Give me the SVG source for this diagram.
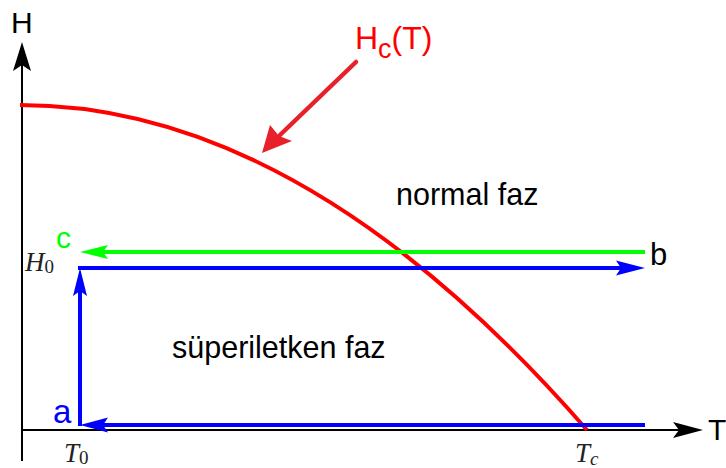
<svg xmlns="http://www.w3.org/2000/svg" width="726" height="468" viewBox="0 0 726 468">
<style>
.lbl{font-family:"Liberation Sans",Arial,sans-serif;font-size:30px}
.math{font-family:"Liberation Serif","Times New Roman",serif;font-style:italic;font-size:27px;fill:#222}
.sub{font-style:normal;font-size:19px}
.ax{stroke:#000;stroke-width:2;fill:none}
.blue{stroke:#0000ff;stroke-width:4;fill:none}
.green{stroke:#00ff00;stroke-width:4;fill:none}
</style>
<rect width="726" height="468" fill="#fff"/>
<g id="axes">
<line class="ax" x1="22" y1="461" x2="22" y2="60"/>
<path d="M22,42 L31,71 L22,65 L13,71 Z" fill="#000"/>
<line class="ax" x1="21" y1="430" x2="690" y2="430"/>
<path d="M703,430 L673,438 L679,430 L673,422 Z" fill="#000"/>
</g>
<g id="curve">
<path d="M20,105 Q303.5,105 587,430" stroke="#ff0000" stroke-width="4" fill="none"/>
</g>
<g id="connectors">
<line class="green" x1="100" y1="252" x2="645" y2="252"/>
<path d="M80,252 L108,245 L103,252 L108,259 Z" fill="#00ff00"/>
<line class="blue" x1="78" y1="268" x2="625" y2="268"/>
<path d="M645,268 L616,260.5 L621,268 L616,275.5 Z" fill="#0000ff"/>
<line class="blue" x1="80" y1="426" x2="80" y2="285"/>
<path d="M80,268 L87,296 L80,291 L73,296 Z" fill="#0000ff"/>
<line class="blue" x1="100" y1="425" x2="645" y2="425"/>
<path d="M80,425 L108,417.5 L103,425 L108,432.5 Z" fill="#0000ff"/>
<line x1="356" y1="62" x2="280" y2="135" stroke="#e8202a" stroke-width="4.5" stroke-linecap="round"/>
<path d="M262,153 L270,125 L279,136 L292,141 Z" fill="#e8202a"/>
</g>
<g id="labels">
<text class="lbl" x="11" y="33">H</text>
<text class="lbl" x="708" y="440">T</text>
<text class="lbl" x="355" y="49" fill="#ff0000" style="font-size:32px">H<tspan style="font-size:27px" dy="9">c</tspan><tspan dy="-9">(T)</tspan></text>
<text class="lbl" x="396" y="205" style="font-size:30.5px">normal faz</text>
<text class="lbl" x="172" y="358" style="font-size:30.5px">süperiletken faz</text>
<text class="lbl" x="56" y="248" fill="#00ff00" style="font-size:30px">c</text>
<text class="lbl" x="650" y="265" style="font-size:31px">b</text>
<text class="lbl" x="53" y="423" fill="#0000ff" style="font-size:33px">a</text>
<text class="math" x="25" y="271">H<tspan class="sub" dy="2">0</tspan></text>
<text class="math" x="64" y="462">T<tspan class="sub" dy="2">0</tspan></text>
<text class="math" x="575" y="462">T<tspan class="sub" dy="3" style="font-style:italic">c</tspan></text>
</g>
</svg>
